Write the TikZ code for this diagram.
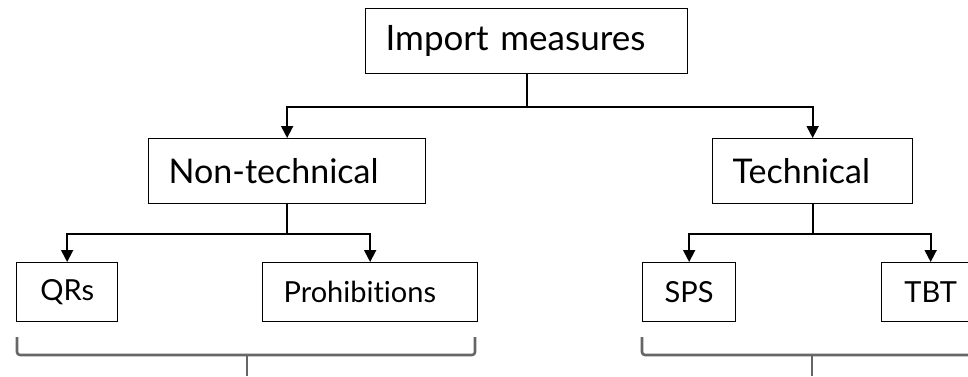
\documentclass[tikz,border=0pt]{standalone}
\usepackage{fontspec}
\setmainfont[Ligatures=NoCommon]{Lato}
\usetikzlibrary{arrows.meta}
\tikzset{
  box/.style={draw, line width=1.3pt, inner sep=0pt, anchor=north west},
  leftbox/.style={box, align=left, inner xsep=20pt},
  conn/.style={line width=1.8pt, -{Triangle[width=12pt,length=12pt]}},
  bracepath/.style={draw=black!60, line width=2.6pt, rounded corners=3pt},
  bigtext/.style={font=\fontsize{35}{40}\selectfont},
  midtext/.style={font=\fontsize{34}{40}\selectfont},
  smalltext/.style={font=\fontsize{29}{34}\selectfont},
}
\begin{document}
\begin{tikzpicture}[x=1pt,y=-1pt]
\useasboundingbox (0,0) rectangle (968,376);
\node[leftbox, bigtext, text width=282pt, minimum height=65pt] (top) at (365,8) {Import measures};
\node[leftbox, midtext, text width=237pt, minimum height=65pt] (nt) at (148,138) {Non-technical};
\node[leftbox, midtext, text width=160pt, minimum height=65pt] (tech) at (712,138) {Technical};
\node[box, smalltext, minimum width=101pt, minimum height=59pt] (qrs) at (16,262) {QRs};
\node[leftbox, smalltext, inner xsep=21pt, text width=173pt, minimum height=59pt] (pro) at (262,262) {Prohibitions};
\node[box, smalltext, minimum width=93pt, minimum height=59pt] (sps) at (642,262) {SPS};
\node[box, smalltext, minimum width=98pt, minimum height=59pt] (tbt) at (881,262) {TBT};
\draw[conn] (top.south) -- ++(0,33) -| (nt.north);
\draw[conn] (top.south) -- ++(0,33) -| (tech.north);
\draw[conn] (nt.south) -- ++(0,30) -| (qrs.north);
\draw[conn] (nt.south) -- ++(0,30) -| (pro.north);
\draw[conn] (tech.south) -- ++(0,30) -| (sps.north);
\draw[conn] (tech.south) -- ++(0,30) -| (tbt.north);
\coordinate (lb1) at (17,337);
\coordinate (lb2) at (475,337);
\coordinate (lbt) at (247,376);
\coordinate (rb1) at (642,337);
\coordinate (rb2) at (985,337);
\coordinate (rbt) at (812,376);
\path[bracepath] (lb1) -- (17,355) -- (475,355) -- (lb2);
\path[bracepath] (247,355) -- (lbt);
\path[bracepath] (rb1) -- (642,355) -- (985,355) -- (rb2);
\path[bracepath] (812,355) -- (rbt);
\end{tikzpicture}
\end{document}
